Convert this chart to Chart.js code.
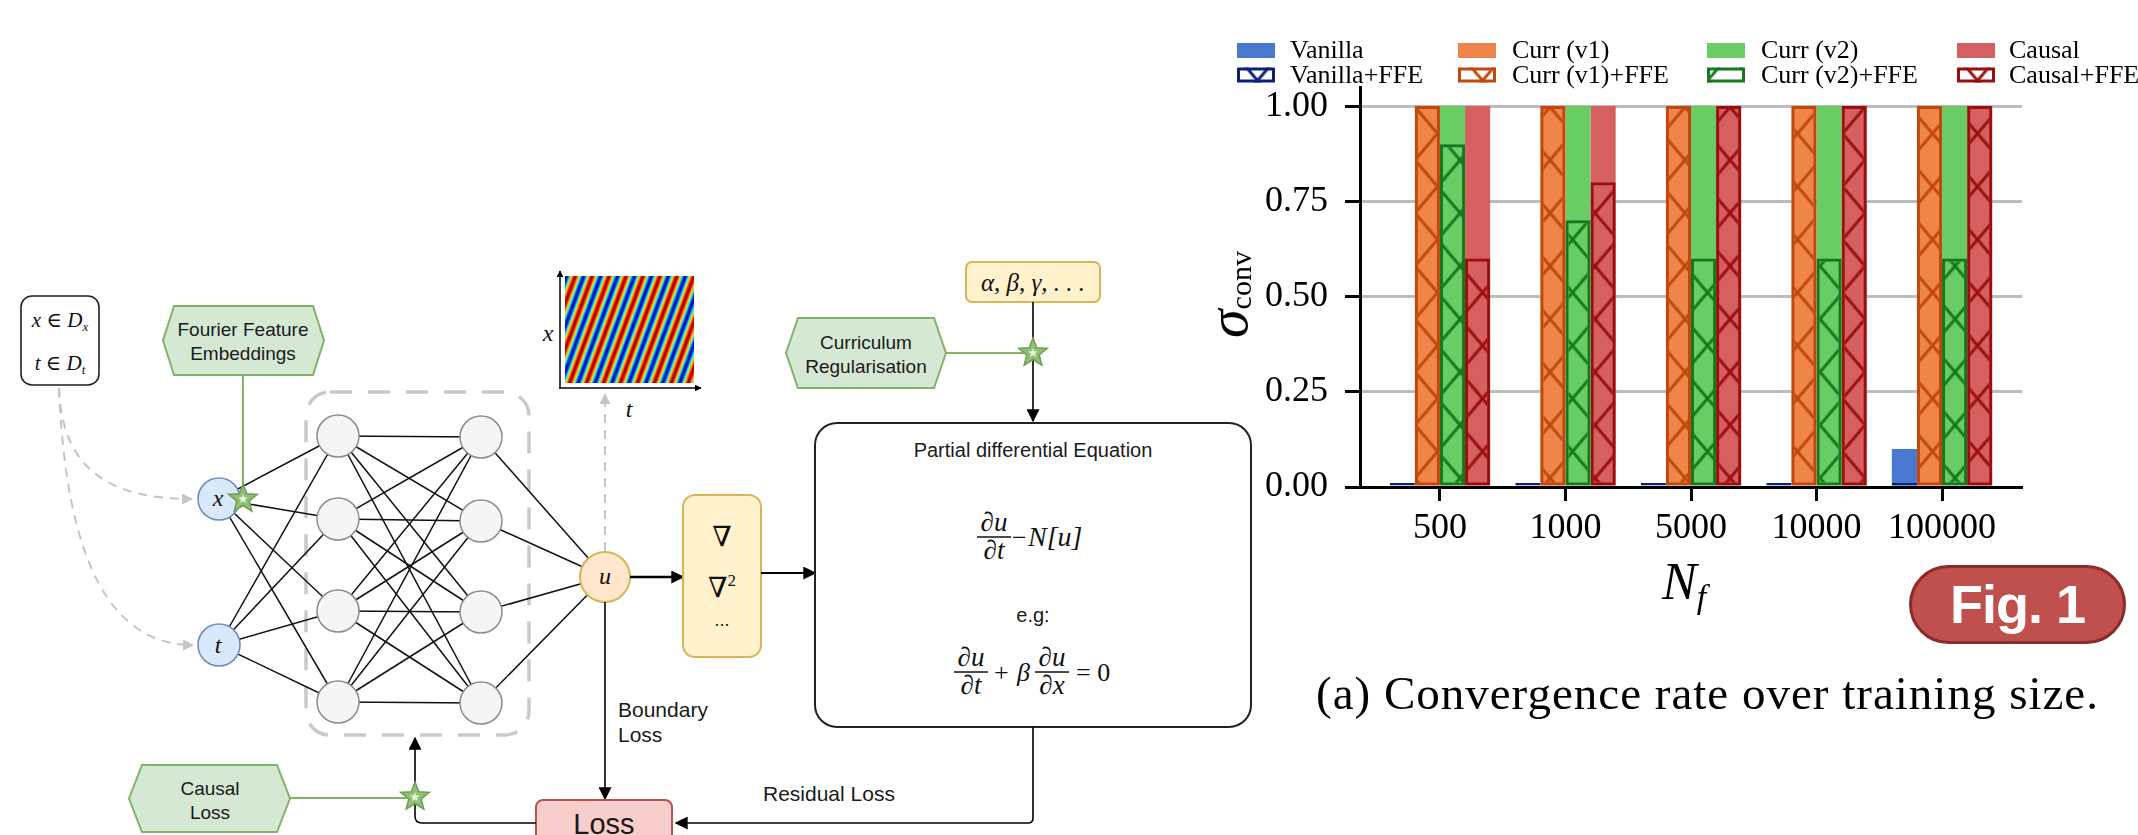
<!DOCTYPE html>
<html><head><meta charset="utf-8">
<script src="https://cdn.jsdelivr.net/npm/chart.js@4.4.1/dist/chart.umd.min.js"></script>
<style>
html,body{margin:0;padding:0;background:#fff;width:2138px;height:835px;overflow:hidden;position:relative}
#diag{position:absolute;left:0;top:0}
#wrap{position:absolute;left:1200px;top:0;width:938px;height:835px}
.lbl{position:absolute;white-space:nowrap;line-height:1;font-family:'Liberation Serif',serif;color:#000}
#fig{position:absolute;left:1909px;top:565px;width:217px;height:79px;box-sizing:border-box;border-radius:40px;background:#c0504d;border:3px solid #8a2c2a;color:#fff;font:bold 54px 'Liberation Sans',Arial,sans-serif;text-align:center;line-height:73px;letter-spacing:-1px}
</style></head><body>
<svg id="diag" width="2138" height="835" viewBox="0 0 2138 835" xmlns="http://www.w3.org/2000/svg">
<defs>
<marker id="ah" viewBox="0 0 10 10" refX="9" refY="5" markerWidth="13" markerHeight="13" markerUnits="userSpaceOnUse" orient="auto"><path d="M0,0 L10,5 L0,10 z" fill="#000"/></marker>
<marker id="ahs" viewBox="0 0 10 10" refX="9" refY="5" markerWidth="7" markerHeight="7" markerUnits="userSpaceOnUse" orient="auto"><path d="M0,0 L10,5 L0,10 z" fill="#000"/></marker>
<marker id="ahg" viewBox="0 0 10 10" refX="9" refY="5" markerWidth="11" markerHeight="11" markerUnits="userSpaceOnUse" orient="auto"><path d="M0,0 L10,5 L0,10 z" fill="#c4c4c4"/></marker>
<linearGradient id="jet" gradientUnits="userSpaceOnUse" x1="0" y1="0" x2="14.9" y2="5.5" spreadMethod="repeat">
<stop offset="0" stop-color="#800000"/><stop offset="0.1" stop-color="#ff1a00"/><stop offset="0.2" stop-color="#ffc800"/><stop offset="0.3" stop-color="#40ffc0"/><stop offset="0.4" stop-color="#0050ff"/><stop offset="0.5" stop-color="#000090"/><stop offset="0.6" stop-color="#0050ff"/><stop offset="0.7" stop-color="#40ffc0"/><stop offset="0.8" stop-color="#ffc800"/><stop offset="0.9" stop-color="#ff1a00"/><stop offset="1" stop-color="#800000"/>
</linearGradient>
</defs>
</svg>
<div id="wrap"><canvas id="c" width="938" height="835"></canvas></div>
<div class="lbl" style="left:1199px;top:338px;font-size:58px;transform:rotate(-90deg);transform-origin:0 0"><i>σ</i><span style="font-size:30px;position:relative;top:4px">conv</span></div>
<div class="lbl" style="left:1662px;top:556px;font-size:52px"><i>N</i><i style="font-size:34px;position:relative;top:9px">f</i></div>
<div class="lbl" style="left:1316px;top:670px;font-size:47px;letter-spacing:1px">(a) Convergence rate over training size.</div>
<div id="fig">Fig. 1</div>
<script>
// ---------- chart data ----------
const categories = ['500', '1000', '5000', '10000', '100000'];
const vanilla    = [0, 0, 0, 0, 0.1];
const vanillaFFE = [0, 0, 0, 0, 0];
const currV1     = [1, 1, 1, 1, 1];
const currV1FFE  = [1, 1, 1, 1, 1];
const currV2     = [1, 1, 1, 1, 1];
const currV2FFE  = [0.9, 0.7, 0.6, 0.6, 0.6];
const causal     = [1, 1, 1, 1, 1];
const causalFFE  = [0.6, 0.8, 1, 1, 1];
const yTicks     = [0, 0.25, 0.5, 0.75, 1.0];

// ---------- diagram (decoration) ----------
const NS = 'http://www.w3.org/2000/svg';
const svg = document.getElementById('diag');
function el(tag, attrs, text) {
  const e = document.createElementNS(NS, tag);
  for (const k in attrs) e.setAttribute(k, attrs[k]);
  if (text != null) e.textContent = text;
  svg.appendChild(e); return e;
}
function hex(x0, y0, x1, y1, d) {
  const m = (y0 + y1) / 2;
  return `${x0},${m} ${x0+d},${y0} ${x1-d},${y0} ${x1},${m} ${x1-d},${y1} ${x0+d},${y1}`;
}
function star(cx, cy, R, r) {
  const p = [];
  for (let i = 0; i < 10; i++) {
    const a = -Math.PI / 2 + i * Math.PI / 5, rr = i % 2 ? r : R;
    p.push((cx + rr * Math.cos(a)).toFixed(1) + ',' + (cy + rr * Math.sin(a)).toFixed(1));
  }
  return p.join(' ');
}
function drawStar(cx, cy) {
  el('polygon', {points: star(cx, cy, 15, 6.5), fill: '#8fc074', stroke: '#6d9e55', 'stroke-width': 1.5});
  el('polygon', {points: star(cx, cy, 5, 2.2), fill: '#e6f2dd'});
}
const SANS = "'Liberation Sans', Arial, sans-serif";
const SERIF = "'Liberation Serif', 'DejaVu Serif', serif";
function sans(x, y, s, size, anchor) {
  return el('text', {x, y, 'font-family': SANS, 'font-size': size, fill: '#1a1a1a', 'text-anchor': anchor || 'middle'}, s);
}
function serif(x, y, s, size, italic, anchor) {
  return el('text', {x, y, 'font-family': SERIF, 'font-size': size, fill: '#111', 'font-style': italic ? 'italic' : 'normal', 'text-anchor': anchor || 'middle'}, s);
}
function frac(cx, by, num, den, size) {
  serif(cx, by - 6, num, size, true);
  el('line', {x1: cx - 17, y1: by, x2: cx + 17, y2: by, stroke: '#111', 'stroke-width': 1.4});
  serif(cx, by + size * 0.78 + 1, den, size, true);
}

// heatmap
el('rect', {x: 565, y: 276, width: 129, height: 107, fill: 'url(#jet)'});
el('line', {x1: 560, y1: 388, x2: 560, y2: 271, stroke: '#000', 'stroke-width': 1.5, 'marker-end': 'url(#ahs)'});
el('line', {x1: 559, y1: 388, x2: 701, y2: 388, stroke: '#000', 'stroke-width': 1.5, 'marker-end': 'url(#ahs)'});
serif(548, 341, 'x', 24, true);
serif(629, 417, 't', 24, true);
el('line', {x1: 605, y1: 551, x2: 605, y2: 394, stroke: '#c4c4c4', 'stroke-width': 2, 'stroke-dasharray': '9 7', 'marker-end': 'url(#ahg)'});

// dashed hidden-layer frame
el('rect', {x: 306, y: 392, width: 223, height: 343, rx: 24, fill: 'none', stroke: '#c9c9c9', 'stroke-width': 3.5, 'stroke-dasharray': '22 16'});

// input box
el('rect', {x: 21, y: 296, width: 78, height: 89, rx: 11, fill: '#fff', stroke: '#222', 'stroke-width': 1.6});
const t1 = el('text', {x: 60, y: 327, 'font-family': SERIF, 'font-size': 21, 'text-anchor': 'middle', fill: '#111'});
t1.innerHTML = '<tspan font-style="italic">x</tspan> ∈ <tspan font-style="italic">D</tspan><tspan font-style="italic" font-size="13" dy="4">x</tspan>';
const t2 = el('text', {x: 60, y: 370, 'font-family': SERIF, 'font-size': 21, 'text-anchor': 'middle', fill: '#111'});
t2.innerHTML = '<tspan font-style="italic">t</tspan> ∈ <tspan font-style="italic">D</tspan><tspan font-style="italic" font-size="13" dy="4">t</tspan>';
el('path', {d: 'M59,388 C62,470 110,499 192,499', fill: 'none', stroke: '#c4c4c4', 'stroke-width': 2, 'stroke-dasharray': '9 7', 'marker-end': 'url(#ahg)'});
el('path', {d: 'M59,388 C66,560 110,645 193,645', fill: 'none', stroke: '#c4c4c4', 'stroke-width': 2, 'stroke-dasharray': '9 7', 'marker-end': 'url(#ahg)'});

// Fourier feature embeddings
el('polygon', {points: hex(163, 306, 324, 375, 11), fill: '#d5e8d4', stroke: '#82b366', 'stroke-width': 2});
sans(243, 336, 'Fourier Feature', 19);
sans(243, 360, 'Embeddings', 19);
el('line', {x1: 243, y1: 375, x2: 243, y2: 490, stroke: '#82b366', 'stroke-width': 2});

// network
const L1 = [436, 519, 611, 702], L2 = [437, 521, 612, 703];
const inputs = [[219, 499], [219, 645]];
for (const [ix, iy] of inputs) for (const y of L1) el('line', {x1: ix, y1: iy, x2: 338, y2: y, stroke: '#111', 'stroke-width': 1.5});
for (const y1 of L1) for (const y2 of L2) el('line', {x1: 338, y1, x2: 481, y2, stroke: '#111', 'stroke-width': 1.5});
for (const y of L2) el('line', {x1: 481, y1: y, x2: 605, y2: 577, stroke: '#111', 'stroke-width': 1.5});
for (const y of L1) el('circle', {cx: 338, cy: y, r: 21, fill: '#f5f5f5', stroke: '#8c8c8c', 'stroke-width': 1.5});
for (const y of L2) el('circle', {cx: 481, cy: y, r: 21, fill: '#f5f5f5', stroke: '#8c8c8c', 'stroke-width': 1.5});
el('circle', {cx: 219, cy: 499, r: 21, fill: '#dae8fc', stroke: '#6c8ebf', 'stroke-width': 1.6});
serif(218, 506, 'x', 24, true);
el('circle', {cx: 219, cy: 645, r: 21, fill: '#dae8fc', stroke: '#6c8ebf', 'stroke-width': 1.6});
serif(218, 653, 't', 24, true);
drawStar(243, 499);
el('circle', {cx: 605, cy: 577, r: 25, fill: '#ffe6cc', stroke: '#d6b656', 'stroke-width': 2});
serif(605, 584, 'u', 24, true);

// derivative box + arrows
el('line', {x1: 630, y1: 577, x2: 683, y2: 577, stroke: '#000', 'stroke-width': 2.5, 'marker-end': 'url(#ah)'});
el('rect', {x: 683, y: 495, width: 78, height: 162, rx: 12, fill: '#fff2cc', stroke: '#d6b656', 'stroke-width': 2});
serif(722, 546, '∇', 28, false);
const nab = el('text', {x: 722, y: 597, 'font-family': SERIF, 'font-size': 28, 'text-anchor': 'middle', fill: '#111'});
nab.innerHTML = '∇<tspan font-size="17" dy="-11">2</tspan>';
sans(722, 626, '...', 18);
el('line', {x1: 761, y1: 573, x2: 815, y2: 573, stroke: '#000', 'stroke-width': 1.8, 'marker-end': 'url(#ah)'});

// PDE box
el('rect', {x: 815, y: 423, width: 436, height: 304, rx: 22, fill: '#fff', stroke: '#222', 'stroke-width': 2});
sans(1033, 457, 'Partial differential Equation', 20);
frac(994, 537, '∂u', '∂t', 27);
serif(1012, 546, '−', 26, false, 'start');
serif(1028, 546, 'N[u]', 28, true, 'start');
sans(1033, 622, 'e.g:', 20);
frac(971, 672, '∂u', '∂t', 27);
serif(994, 681, '+', 26, false, 'start');
serif(1017, 681, 'β', 26, true, 'start');
frac(1052, 672, '∂u', '∂x', 27);
serif(1076, 681, '= 0', 26, false, 'start');

// parameters + curriculum
el('rect', {x: 966, y: 262, width: 134, height: 40, rx: 6, fill: '#fff2cc', stroke: '#d6b656', 'stroke-width': 2});
serif(1033, 291, 'α, β, γ, . . .', 25, true);
el('line', {x1: 1033, y1: 302, x2: 1033, y2: 421, stroke: '#000', 'stroke-width': 1.6, 'marker-end': 'url(#ah)'});
el('polygon', {points: hex(786, 318, 946, 388, 12), fill: '#d5e8d4', stroke: '#82b366', 'stroke-width': 2});
sans(866, 349, 'Curriculum', 19);
sans(866, 373, 'Regularisation', 19);
el('line', {x1: 946, y1: 353, x2: 1033, y2: 353, stroke: '#82b366', 'stroke-width': 2});
drawStar(1033, 353);

// losses
el('line', {x1: 605, y1: 602, x2: 605, y2: 799, stroke: '#000', 'stroke-width': 1.6, 'marker-end': 'url(#ah)'});
sans(618, 717, 'Boundary', 21, 'start');
sans(618, 742, 'Loss', 21, 'start');
el('path', {d: 'M1033,727 L1033,818 Q1033,823 1028,823 L676,823', fill: 'none', stroke: '#000', 'stroke-width': 1.6, 'marker-end': 'url(#ah)'});
sans(763, 801, 'Residual Loss', 21, 'start');
el('rect', {x: 536, y: 800, width: 136, height: 50, rx: 7, fill: '#f8cecc', stroke: '#b85450', 'stroke-width': 2});
sans(604, 834, 'Loss', 29);
el('polygon', {points: hex(129, 765, 290, 832, 13), fill: '#d5e8d4', stroke: '#82b366', 'stroke-width': 2});
sans(210, 795, 'Causal', 19);
sans(210, 819, 'Loss', 19);
el('path', {d: 'M536,823 L422,823 Q415,823 415,816 L415,738', fill: 'none', stroke: '#000', 'stroke-width': 1.6, 'marker-end': 'url(#ah)'});
el('line', {x1: 290, y1: 798, x2: 415, y2: 798, stroke: '#82b366', 'stroke-width': 2});
drawStar(415, 797);

// ---------- chart ----------
const canvas = document.getElementById('c');
const ctx = canvas.getContext('2d');
function hatch(color) {
  const W = 45, H = 53;
  const c = document.createElement('canvas'); c.width = W; c.height = H;
  const g = c.getContext('2d');
  g.strokeStyle = color; g.lineWidth = 3; g.lineCap = 'square';
  for (const dx of [-W, 0, W]) for (const dy of [-H, 0, H]) {
    g.beginPath(); g.moveTo(dx, dy); g.lineTo(dx + W, dy + H); g.stroke();
    g.beginPath(); g.moveTo(dx, dy + H); g.lineTo(dx + W, dy); g.stroke();
  }
  const p = ctx.createPattern(c, 'repeat');
  p.setTransform(new DOMMatrix([1, 0, 0, 1, 12.5, 27.5]));
  return p;
}
const toXY = arr => arr.map((v, i) => ({x: i, y: v}));
const COL = {van: '#4878d0', v1: '#ee854a', v2: '#6acc64', cau: '#d65f5f'};
const DARK = {van: '#0c1f7a', v1: '#c0480c', v2: '#15781c', cau: '#990f0f'};
function plain(label, arr, key) {
  return {label, data: toXY(arr), backgroundColor: COL[key], borderWidth: 0, stack: key, order: 1};
}
function ffe(label, arr, key) {
  return {label, data: toXY(arr), backgroundColor: hatch(DARK[key]), borderColor: DARK[key], borderWidth: 3,
          borderSkipped: false, stack: key, order: 0, minBarLength: key === 'van' ? 4 : 0, ffe: true};
}
const datasets = [
  plain('Vanilla', vanilla, 'van'), plain('Curr (v1)', currV1, 'v1'), plain('Curr (v2)', currV2, 'v2'), plain('Causal', causal, 'cau'),
  ffe('Vanilla+FFE', vanillaFFE, 'van'), ffe('Curr (v1)+FFE', currV1FFE, 'v1'), ffe('Curr (v2)+FFE', currV2FFE, 'v2'), ffe('Causal+FFE', causalFFE, 'cau')
];

const legendPlugin = {
  id: 'gridLegend',
  afterDraw(chart) {
    const g = chart.ctx;
    const swX = [37, 258, 507, 757], txX = [90, 312, 561, 809], rowY = [50.5, 75];
    chart.data.datasets.forEach((ds, i) => {
      const col = i % 4, row = Math.floor(i / 4);
      const x = swX[col], cy = rowY[row];
      g.save();
      if (!ds.ffe) {
        g.fillStyle = ds.backgroundColor; g.fillRect(x, cy - 7.5, 38, 15);
      } else {
        g.fillStyle = '#fff'; g.fillRect(x, cy - 7.5, 38, 15);
        g.fillStyle = ds.backgroundColor; g.fillRect(x, cy - 7.5, 38, 15);
        g.strokeStyle = ds.borderColor; g.lineWidth = 3; g.strokeRect(x + 1.5, cy - 6, 35, 12);
      }
      g.fillStyle = '#000'; g.font = '26px "Liberation Serif"'; g.textBaseline = 'middle'; g.textAlign = 'left';
      g.fillText(ds.label, txX[col], cy + 1);
      g.restore();
    });
  }
};

const SF = {family: "'Liberation Serif', serif", size: 36};
new Chart(ctx, {
  type: 'bar',
  data: {datasets},
  plugins: [legendPlugin],
  options: {
    responsive: false, animation: false, devicePixelRatio: 1,
    layout: {padding: {top: 87, right: 116, left: 0, bottom: 0}},
    datasets: {bar: {categoryPercentage: 0.8, barPercentage: 1.0, inflateAmount: 0}},
    plugins: {legend: {display: false}, tooltip: {enabled: false}},
    scales: {
      x: {
        type: 'linear', min: -0.637, max: 4.637, offset: false,
        afterBuildTicks: s => { s.ticks = categories.map((_, i) => ({value: i})); },
        afterFit: s => { s.height = 348; },
        ticks: {callback: v => categories[v], font: SF, color: '#000', padding: 6, maxRotation: 0, autoSkip: false},
        grid: {drawOnChartArea: false, offset: false, color: '#000', tickColor: '#000', tickWidth: 3, tickLength: 14},
        border: {display: true, color: '#000', width: 3}
      },
      y: {
        type: 'linear', min: 0, max: 1.05, stacked: false,
        afterBuildTicks: s => { s.ticks = yTicks.map(v => ({value: v})); },
        afterFit: s => { s.width = 160; },
        ticks: {callback: v => Number(v).toFixed(2), font: SF, color: '#000', padding: 17},
        grid: {color: c => (c.tick && c.tick.value === 0) ? '#000' : '#bcbcbc', lineWidth: 3, tickColor: '#000', tickWidth: 3, tickLength: 15},
        border: {display: true, color: '#000', width: 3}
      }
    }
  }
});
</script>
</body></html>
